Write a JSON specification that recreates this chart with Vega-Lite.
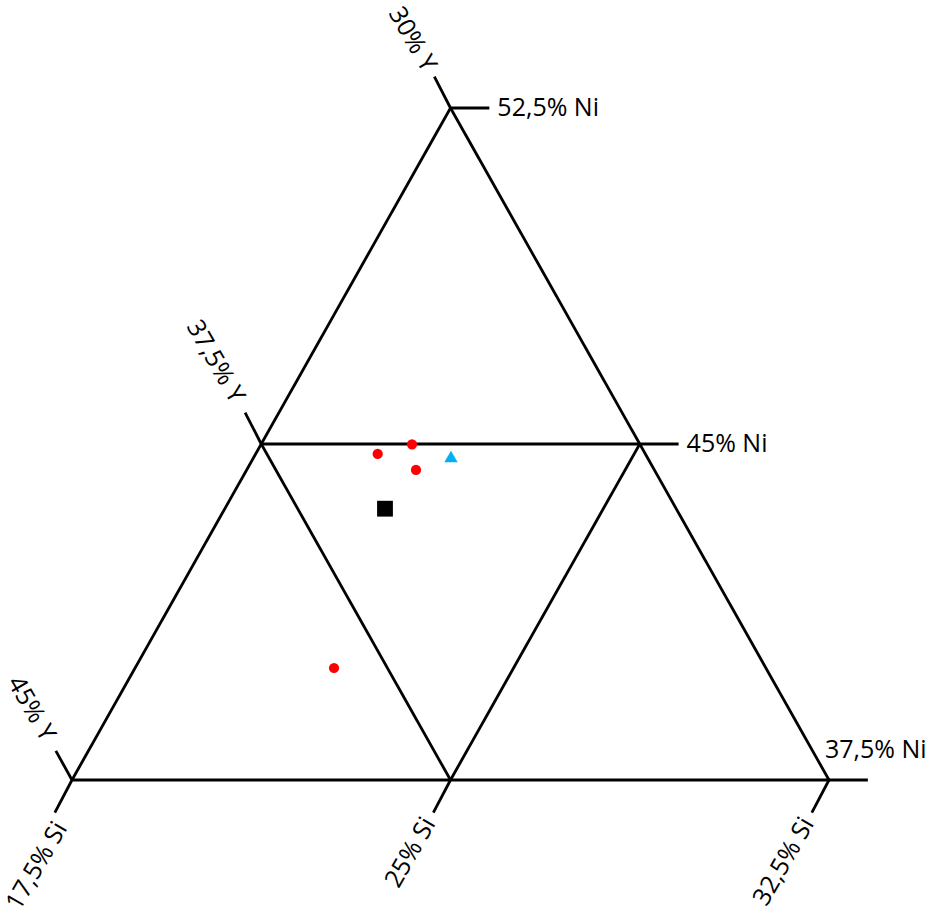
{
  "$schema": "https://vega.github.io/schema/vega-lite/v6.json",
  "width": 757,
  "height": 672,
  "autosize": {"type": "none"},
  "padding": {"left": 72, "top": 108, "right": 101, "bottom": 131},
  "background": "white",
  "config": {"view": {"stroke": null}},
  "datasets": {
    "lines": [
      {"x": 17.5, "y": 37.5, "x2": 25, "y2": 52.5},
      {"x": 25, "y": 52.5, "x2": 32.5, "y2": 37.5},
      {"x": 17.5, "y": 37.5, "x2": 32.5, "y2": 37.5},
      {"x": 21.25, "y": 45, "x2": 28.75, "y2": 45},
      {"x": 21.25, "y": 45, "x2": 25, "y2": 37.5},
      {"x": 25, "y": 37.5, "x2": 28.75, "y2": 45},
      {"x": 25, "y": 52.5, "x2": 25.77, "y2": 52.5},
      {"x": 28.75, "y": 45, "x2": 29.52, "y2": 45},
      {"x": 32.5, "y": 37.5, "x2": 33.27, "y2": 37.5},
      {"x": 25, "y": 52.5, "x2": 24.68, "y2": 53.2},
      {"x": 21.25, "y": 45, "x2": 20.93, "y2": 45.7},
      {"x": 17.5, "y": 37.5, "x2": 17.18, "y2": 38.15},
      {"x": 17.5, "y": 37.5, "x2": 17.16, "y2": 36.77},
      {"x": 25, "y": 37.5, "x2": 24.66, "y2": 36.77},
      {"x": 32.5, "y": 37.5, "x2": 32.16, "y2": 36.77}
    ],
    "labels": [
      {"x": 25.77, "y": 52.5, "text": "52,5% Ni", "axis": "Ni"},
      {"x": 29.52, "y": 45, "text": "45% Ni", "axis": "Ni"},
      {"x": 32.5, "y": 37.5, "text": "37,5% Ni", "axis": "NiLow"},
      {"x": 24.73, "y": 53.09, "text": "30% Y", "axis": "Y"},
      {"x": 20.93, "y": 45.7, "text": "37,5% Y", "axis": "Y"},
      {"x": 17.18, "y": 38.15, "text": "45% Y", "axis": "Y"},
      {"x": 17.36, "y": 36.67, "text": "17,5% Si", "axis": "Si"},
      {"x": 24.66, "y": 36.77, "text": "25% Si", "axis": "Si"},
      {"x": 32.16, "y": 36.77, "text": "32,5% Si", "axis": "Si"}
    ],
    "points": [
      {"x": 23.557, "y": 44.777, "group": "a"},
      {"x": 24.237, "y": 44.993, "group": "a"},
      {"x": 24.316, "y": 44.42, "group": "a"},
      {"x": 22.692, "y": 40.0, "group": "a"},
      {"x": 25.01, "y": 44.72, "group": "b"},
      {"x": 23.702, "y": 43.556, "group": "c"}
    ]
  },
  "layer": [
    {
      "data": {"name": "lines"},
      "mark": {"type": "rule", "color": "black", "strokeWidth": 2.8},
      "encoding": {
        "x": {"field": "x", "type": "quantitative", "scale": {"domain": [17.5, 32.5], "nice": false, "zero": false}, "axis": null},
        "y": {"field": "y", "type": "quantitative", "scale": {"domain": [37.5, 52.5], "nice": false, "zero": false}, "axis": null},
        "x2": {"field": "x2"},
        "y2": {"field": "y2"}
      }
    },
    {
      "data": {"name": "labels"},
      "transform": [{"filter": "datum.axis === 'Ni'"}],
      "mark": {"type": "text", "font": "Open Sans", "fontSize": 25, "align": "left", "baseline": "middle", "dx": 8, "color": "black"},
      "encoding": {
        "x": {"field": "x", "type": "quantitative"},
        "y": {"field": "y", "type": "quantitative"},
        "text": {"field": "text"}
      }
    },
    {
      "data": {"name": "labels"},
      "transform": [{"filter": "datum.axis === 'NiLow'"}],
      "mark": {"type": "text", "font": "Open Sans", "fontSize": 25, "align": "left", "baseline": "alphabetic", "dx": -4, "dy": -22, "color": "black"},
      "encoding": {
        "x": {"field": "x", "type": "quantitative"},
        "y": {"field": "y", "type": "quantitative"},
        "text": {"field": "text"}
      }
    },
    {
      "data": {"name": "labels"},
      "transform": [{"filter": "datum.axis === 'Y'"}],
      "mark": {"type": "text", "font": "Open Sans", "fontSize": 25, "align": "right", "baseline": "middle", "angle": 60, "dx": -14, "dy": 0, "color": "black"},
      "encoding": {
        "x": {"field": "x", "type": "quantitative"},
        "y": {"field": "y", "type": "quantitative"},
        "text": {"field": "text"}
      }
    },
    {
      "data": {"name": "labels"},
      "transform": [{"filter": "datum.axis === 'Si'"}],
      "mark": {"type": "text", "font": "Open Sans", "fontSize": 25, "align": "right", "baseline": "middle", "angle": -60, "dx": -8, "color": "black"},
      "encoding": {
        "x": {"field": "x", "type": "quantitative"},
        "y": {"field": "y", "type": "quantitative"},
        "text": {"field": "text"}
      }
    },
    {
      "data": {"name": "points"},
      "mark": {"type": "point", "filled": true, "opacity": 1},
      "encoding": {
        "x": {"field": "x", "type": "quantitative"},
        "y": {"field": "y", "type": "quantitative"},
        "color": {"field": "group", "type": "nominal", "scale": {"domain": ["a", "b", "c"], "range": ["#FF0000", "#00B0F0", "#000000"]}, "legend": null},
        "shape": {"field": "group", "type": "nominal", "scale": {"domain": ["a", "b", "c"], "range": ["circle", "triangle-up", "square"]}, "legend": null},
        "size": {"field": "group", "type": "ordinal", "scale": {"domain": ["a", "b", "c"], "range": [105, 250, 190]}, "legend": null}
      }
    }
  ]
}
